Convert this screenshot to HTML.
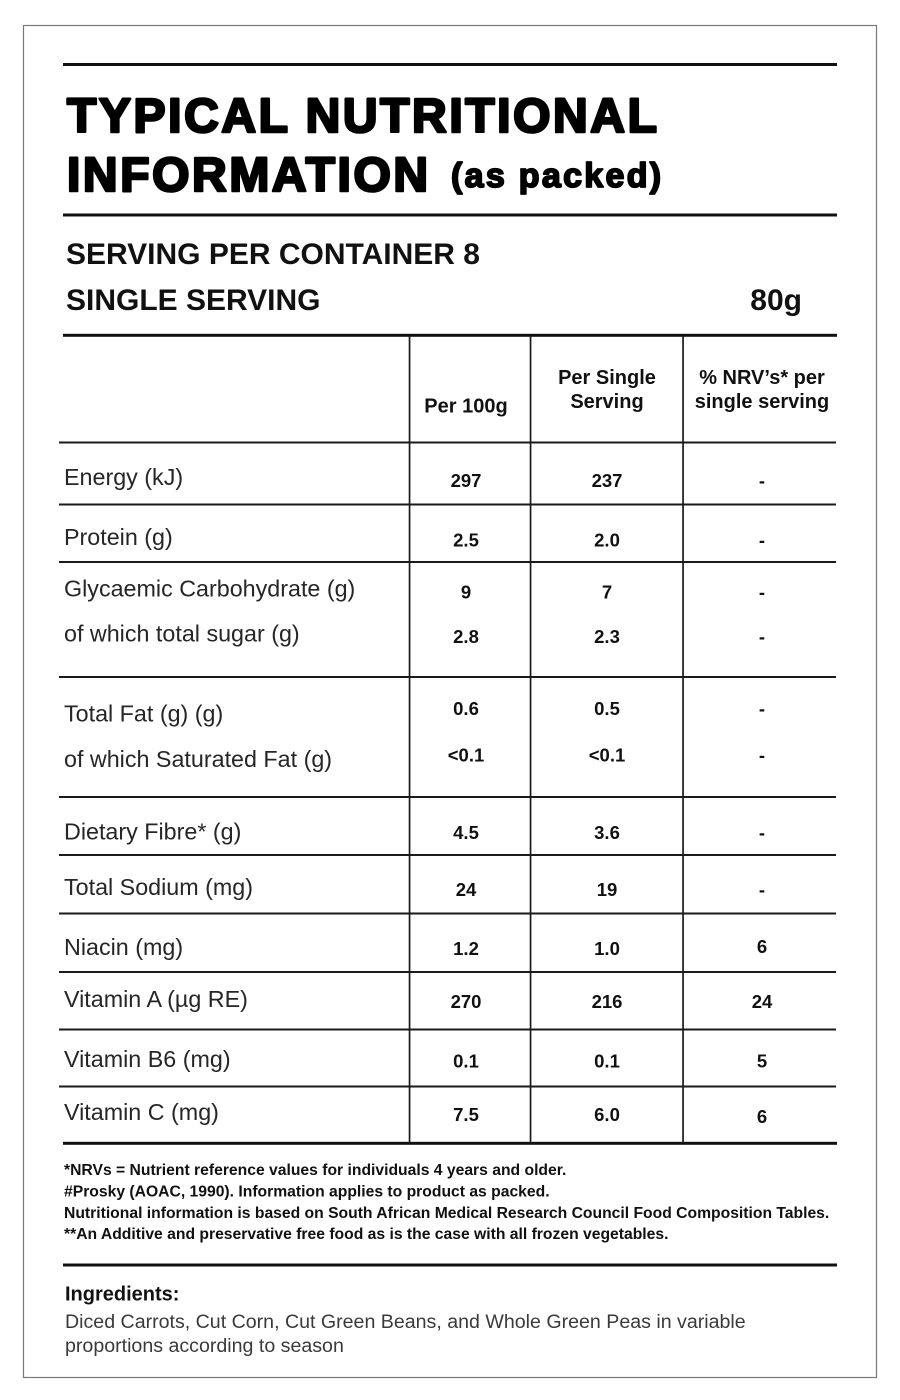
<!DOCTYPE html>
<html>
<head>
<meta charset="utf-8">
<style>
html,body{margin:0;padding:0;background:#fff;}
svg{display:block;}
text{font-family:"Liberation Sans",Arial,sans-serif;}
.lbl{font-size:23.3px;fill:#262626;}
.val{font-size:18.5px;font-weight:bold;fill:#111;text-anchor:middle;}
.hdr{font-size:20px;font-weight:bold;fill:#111;text-anchor:middle;}
.fn{font-size:15.7px;font-weight:bold;fill:#111;}
</style>
</head>
<body>
<svg width="900" height="1400" viewBox="0 0 900 1400" xmlns="http://www.w3.org/2000/svg">
<rect x="0" y="0" width="900" height="1400" fill="#fff"/>
<rect x="23.5" y="25.5" width="853" height="1352" fill="none" stroke="#777" stroke-width="1.2"/>

<!-- thick rules -->
<rect x="63" y="63" width="774" height="3" fill="#111"/>
<rect x="63" y="213.5" width="774" height="3" fill="#111"/>
<rect x="63" y="333.8" width="774" height="3" fill="#111"/>
<rect x="63" y="1141.8" width="774" height="3" fill="#111"/>
<rect x="63" y="1263.5" width="774" height="3" fill="#111"/>

<!-- thin row lines -->
<g fill="#1a1a1a">
<rect x="59" y="441.5" width="777" height="2"/>
<rect x="59" y="503.5" width="777" height="2"/>
<rect x="59" y="561" width="777" height="2"/>
<rect x="59" y="676" width="777" height="2"/>
<rect x="59" y="796" width="777" height="2"/>
<rect x="59" y="854" width="777" height="2"/>
<rect x="59" y="912.5" width="777" height="2"/>
<rect x="59" y="971" width="777" height="2"/>
<rect x="59" y="1028.5" width="777" height="2"/>
<rect x="59" y="1085.5" width="777" height="2"/>
</g>
<!-- vertical lines -->
<g fill="#1a1a1a">
<rect x="408.7" y="336" width="1.7" height="807"/>
<rect x="529.7" y="336" width="1.7" height="807"/>
<rect x="682.2" y="336" width="1.7" height="807"/>
</g>

<!-- title -->
<text x="67" y="132" font-size="48" font-weight="bold" fill="#000" stroke="#000" stroke-width="2.6" stroke-linejoin="round" letter-spacing="2.6">TYPICAL NUTRITIONAL</text>
<text x="67" y="191" font-size="48" font-weight="bold" fill="#000" stroke="#000" stroke-width="2.6" stroke-linejoin="round" letter-spacing="2.6">INFORMATION</text>
<text x="451" y="187" font-size="34" font-weight="bold" fill="#000" stroke="#000" stroke-width="1.8" stroke-linejoin="round" letter-spacing="2.3">(as packed)</text>

<text x="66" y="264" font-size="30" font-weight="bold" fill="#111">SERVING PER CONTAINER 8</text>
<text x="66" y="310" font-size="30" font-weight="bold" fill="#111">SINGLE SERVING</text>
<text x="802" y="310" font-size="30" font-weight="bold" fill="#111" text-anchor="end">80g</text>

<!-- headers -->
<text class="hdr" x="466" y="412.5">Per 100g</text>
<text class="hdr" x="607" y="384">Per Single</text>
<text class="hdr" x="607" y="408">Serving</text>
<text class="hdr" x="762" y="384">% NRV’s* per</text>
<text class="hdr" x="762" y="408">single serving</text>

<!-- labels -->
<text class="lbl" x="64" y="485">Energy (kJ)</text>
<text class="lbl" x="64" y="545">Protein (g)</text>
<text class="lbl" x="64" y="596.7">Glycaemic Carbohydrate (g)</text>
<text class="lbl" x="64" y="641.7">of which total sugar (g)</text>
<text class="lbl" x="64" y="721.7">Total Fat (g) (g)</text>
<text class="lbl" x="64" y="767">of which Saturated Fat (g)</text>
<text class="lbl" x="64" y="839.3">Dietary Fibre* (g)</text>
<text class="lbl" x="64" y="895">Total Sodium (mg)</text>
<text class="lbl" x="64" y="955">Niacin (mg)</text>
<text class="lbl" x="64" y="1007">Vitamin A (µg RE)</text>
<text class="lbl" x="64" y="1067">Vitamin B6 (mg)</text>
<text class="lbl" x="64" y="1120">Vitamin C (mg)</text>

<!-- values col 1 -->
<text class="val" x="466" y="487">297</text>
<text class="val" x="466" y="546.5">2.5</text>
<text class="val" x="466" y="598.5">9</text>
<text class="val" x="466" y="643">2.8</text>
<text class="val" x="466" y="715">0.6</text>
<text class="val" x="466" y="761.5">&lt;0.1</text>
<text class="val" x="466" y="839">4.5</text>
<text class="val" x="466" y="896">24</text>
<text class="val" x="466" y="955">1.2</text>
<text class="val" x="466" y="1008">270</text>
<text class="val" x="466" y="1067.5">0.1</text>
<text class="val" x="466" y="1121">7.5</text>

<!-- values col 2 -->
<text class="val" x="607" y="487">237</text>
<text class="val" x="607" y="546.5">2.0</text>
<text class="val" x="607" y="598.5">7</text>
<text class="val" x="607" y="643">2.3</text>
<text class="val" x="607" y="715">0.5</text>
<text class="val" x="607" y="761.5">&lt;0.1</text>
<text class="val" x="607" y="839">3.6</text>
<text class="val" x="607" y="896">19</text>
<text class="val" x="607" y="955">1.0</text>
<text class="val" x="607" y="1008">216</text>
<text class="val" x="607" y="1067.5">0.1</text>
<text class="val" x="607" y="1121">6.0</text>

<!-- values col 3 -->
<text class="val" x="762" y="487">-</text>
<text class="val" x="762" y="546.5">-</text>
<text class="val" x="762" y="598.5">-</text>
<text class="val" x="762" y="643">-</text>
<text class="val" x="762" y="715">-</text>
<text class="val" x="762" y="761.5">-</text>
<text class="val" x="762" y="839">-</text>
<text class="val" x="762" y="896">-</text>
<text class="val" x="762" y="953">6</text>
<text class="val" x="762" y="1008">24</text>
<text class="val" x="762" y="1067.5">5</text>
<text class="val" x="762" y="1123">6</text>

<!-- footnotes -->
<text class="fn" x="64" y="1175">*NRVs = Nutrient reference values for individuals 4 years and older.</text>
<text class="fn" x="64" y="1196.5">#Prosky (AOAC, 1990). Information applies to product as packed.</text>
<text class="fn" x="64" y="1218">Nutritional information is based on South African Medical Research Council Food Composition Tables.</text>
<text class="fn" x="64" y="1239">**An Additive and preservative free food as is the case with all frozen vegetables.</text>

<!-- ingredients -->
<text x="65" y="1300.5" font-size="20" font-weight="bold" fill="#111">Ingredients:</text>
<text x="65" y="1328" font-size="19.6" fill="#3a3a3a">Diced Carrots, Cut Corn, Cut Green Beans, and Whole Green Peas in variable</text>
<text x="65" y="1352" font-size="19.6" fill="#3a3a3a">proportions according to season</text>
</svg>
</body>
</html>
